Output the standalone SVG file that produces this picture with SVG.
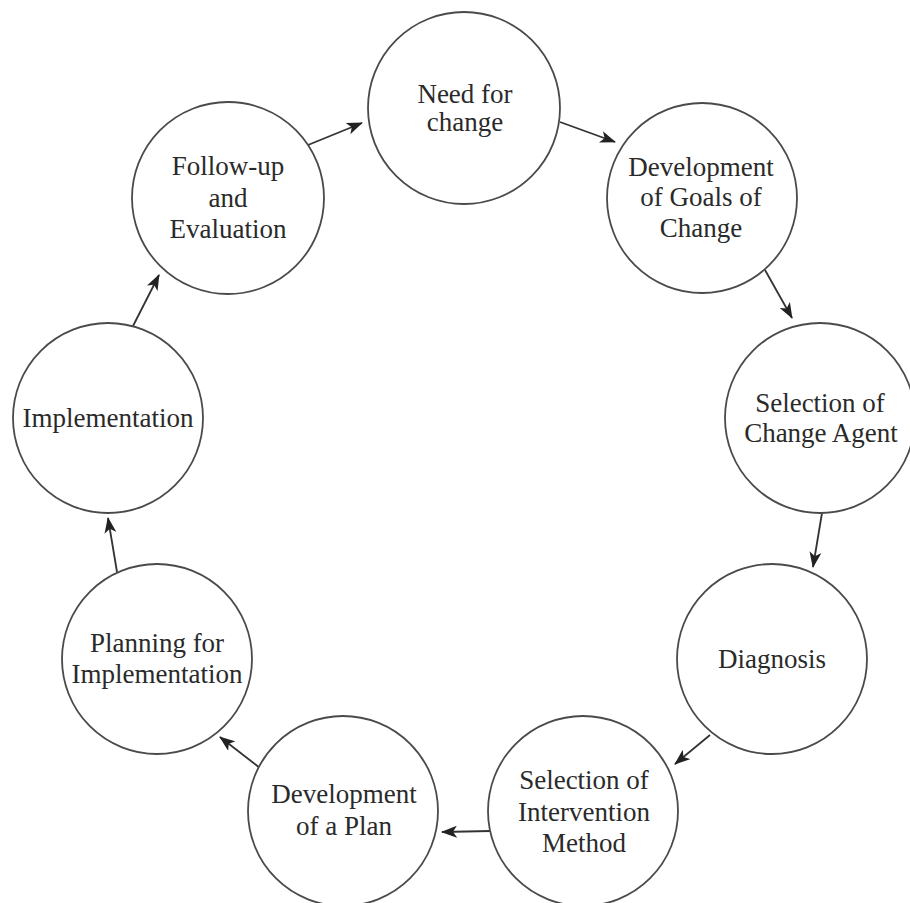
<svg xmlns="http://www.w3.org/2000/svg" width="910" height="903" viewBox="0 0 910 903">
<style>
.node circle{fill:#fff;stroke:#4a4a4a;stroke-width:1.8}
.node text{font-family:"Liberation Serif",serif;font-size:27px;fill:#2a2a2a;text-anchor:middle}
.conn line{stroke:#333;stroke-width:1.8;marker-end:url(#ah)}
</style>
<defs>
<marker id="ah" markerUnits="userSpaceOnUse" markerWidth="16" markerHeight="12" viewBox="0 0 16 12" refX="15" refY="6" orient="auto">
<path d="M0,0 L16,6 L0,12 L4,6 Z" fill="#222"/>
</marker>
</defs>
<rect width="910" height="903" fill="#fff"/>
<g class="conn">
<line x1="560" y1="122" x2="615" y2="142"/>
<line x1="765" y1="270" x2="792" y2="318"/>
<line x1="822" y1="513" x2="813" y2="567"/>
<line x1="710" y1="735" x2="675" y2="764"/>
<line x1="490" y1="831" x2="442" y2="832"/>
<line x1="260" y1="768" x2="220" y2="737"/>
<line x1="117" y1="572" x2="108" y2="518"/>
<line x1="133" y1="326" x2="159" y2="275"/>
<line x1="308" y1="145" x2="362" y2="123"/>
</g>
<g id="need" class="node"><circle cx="464" cy="108" r="96"/><text x="465" y="103">Need for</text><text x="465" y="131">change</text></g>
<g id="goals" class="node"><circle cx="702" cy="198" r="95"/><text x="701" y="176">Development</text><text x="701" y="206">of Goals of</text><text x="701" y="237">Change</text></g>
<g id="agent" class="node"><circle cx="820" cy="418" r="95"/><text x="820" y="412">Selection of</text><text x="821" y="442">Change Agent</text></g>
<g id="diagnosis" class="node"><circle cx="772" cy="659" r="95"/><text x="772" y="668">Diagnosis</text></g>
<g id="intervention" class="node"><circle cx="583" cy="811" r="95"/><text x="584" y="789">Selection of</text><text x="584" y="821">Intervention</text><text x="584" y="852">Method</text></g>
<g id="plan" class="node"><circle cx="343" cy="811" r="95"/><text x="344" y="803">Development</text><text x="344" y="835">of a Plan</text></g>
<g id="planning" class="node"><circle cx="157" cy="659" r="95"/><text x="157" y="652">Planning for</text><text x="157" y="683">Implementation</text></g>
<g id="implementation" class="node"><circle cx="108" cy="418" r="95"/><text x="108" y="427">Implementation</text></g>
<g id="followup" class="node"><circle cx="228" cy="198" r="96"/><text x="228" y="175">Follow-up</text><text x="228" y="207">and</text><text x="228" y="238">Evaluation</text></g>
</svg>
